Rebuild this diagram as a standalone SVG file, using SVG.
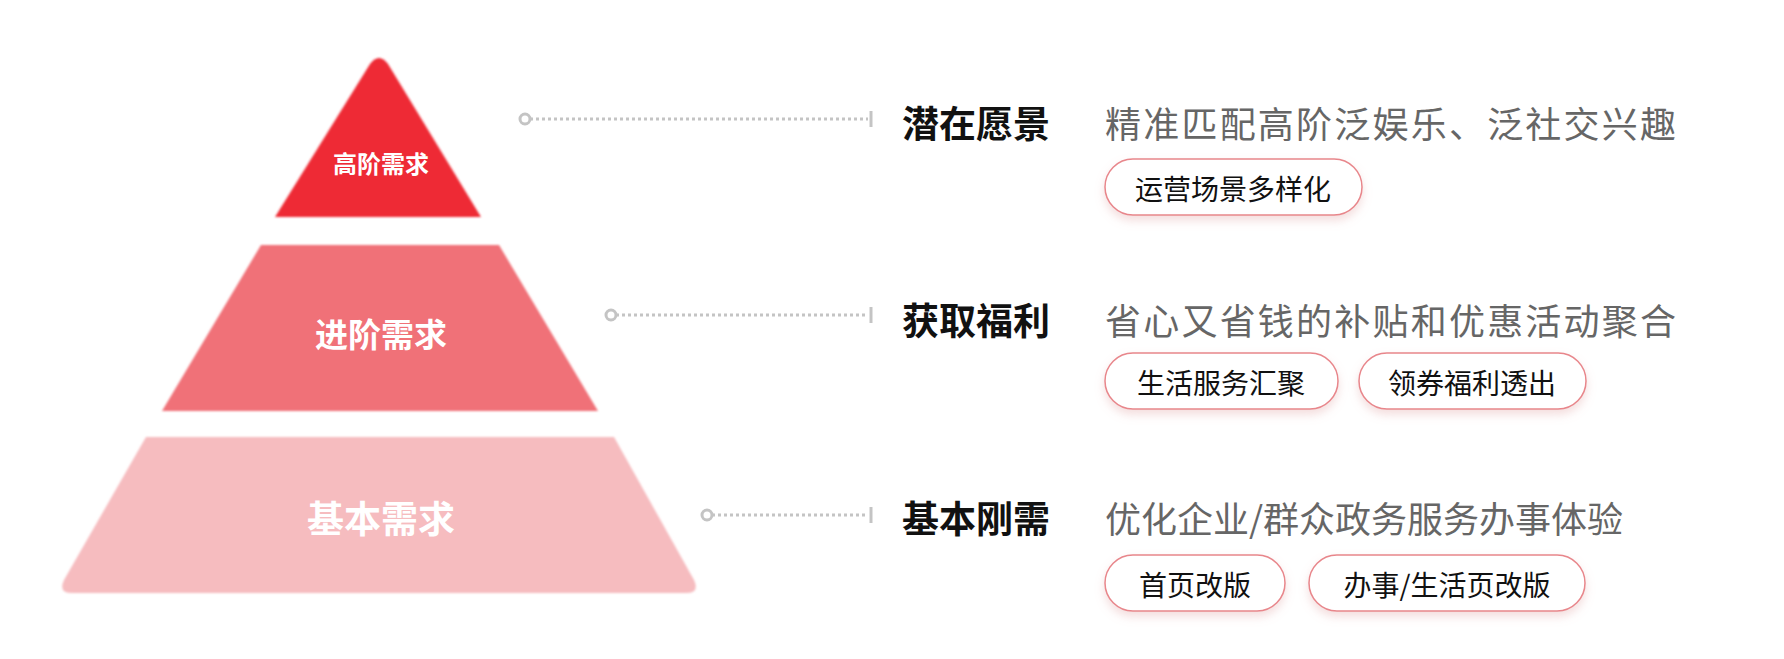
<svg xmlns="http://www.w3.org/2000/svg" width="1784" height="659" viewBox="0 0 1784 659">
<style>
.lvl{fill:#fff;font-family:"Noto Sans CJK SC","Noto Sans",sans-serif;font-weight:bold;text-anchor:middle;dominant-baseline:central}
.ttl{fill:#111;font-family:"Noto Sans CJK SC",sans-serif;font-weight:bold;font-size:37px;dominant-baseline:central}
.dsc{fill:#666;font-family:"Noto Sans CJK SC",sans-serif;font-size:36px;dominant-baseline:central}
.tag{fill:#111;font-family:"Noto Sans CJK SC",sans-serif;font-size:28px;text-anchor:middle;dominant-baseline:central}
.pill{fill:#fff;stroke:#e8868b;stroke-width:1.5;filter:url(#sh)}
.dl{stroke:#c4c4c4;stroke-width:3;stroke-dasharray:3 3;fill:none}
.dc{fill:#fff;stroke:#c4c4c4;stroke-width:3}
.tk{stroke:#c4c4c4;stroke-width:3}
</style>
<defs>
<filter id="sh" x="-20%" y="-40%" width="140%" height="190%"><feDropShadow dx="0" dy="5" stdDeviation="5" flood-color="#e0a0a0" flood-opacity="0.35"/></filter>
<filter id="bl"><feGaussianBlur stdDeviation="1.2"/></filter>
</defs>
<g id="level-top">
<path d="M370 64 Q379 52 388 64 L481 217 L275 217 Z" fill="#ee2a35" filter="url(#bl)"/>
<text class="lvl" x="381" y="162" font-size="24">高阶需求</text>
</g>
<g id="level-mid">
<path d="M261 245 L499 245 L598 411 L162 411 Z" fill="#f07178" filter="url(#bl)"/>
<text class="lvl" x="381" y="333" font-size="33">进阶需求</text>
</g>
<g id="level-base">
<path d="M146 437 L614 437 L694 580 Q700 593 686 593 L72 593 Q58 593 64 580 Z" fill="#f6bcbf" filter="url(#bl)"/>
<text class="lvl" x="381" y="517" font-size="37">基本需求</text>
</g>
<g id="connectors">
<line class="dl" x1="530" y1="119" x2="868" y2="119"/><circle class="dc" cx="525" cy="119" r="5"/><line class="tk" x1="871" y1="111" x2="871" y2="127"/>
<line class="dl" x1="616" y1="315" x2="868" y2="315"/><circle class="dc" cx="611" cy="315" r="5"/><line class="tk" x1="871" y1="307" x2="871" y2="323"/>
<line class="dl" x1="712" y1="515" x2="868" y2="515"/><circle class="dc" cx="707" cy="515" r="5"/><line class="tk" x1="871" y1="507" x2="871" y2="523"/>
</g>
<g id="row1">
<text class="ttl" x="902" y="122">潜在愿景</text>
<text class="dsc" x="1105" y="122" textLength="571">精准匹配高阶泛娱乐、泛社交兴趣</text>
<rect class="pill" x="1105" y="159" width="257" height="56" rx="28"/>
<text class="tag" x="1233" y="188">运营场景多样化</text>
</g>
<g id="row2">
<text class="ttl" x="902" y="319">获取福利</text>
<text class="dsc" x="1105" y="319" textLength="571">省心又省钱的补贴和优惠活动聚合</text>
<rect class="pill" x="1105" y="353" width="233" height="56" rx="28"/>
<text class="tag" x="1221" y="382">生活服务汇聚</text>
<rect class="pill" x="1359" y="353" width="227" height="56" rx="28"/>
<text class="tag" x="1472" y="382">领券福利透出</text>
</g>
<g id="row3">
<text class="ttl" x="902" y="517">基本刚需</text>
<text class="dsc" x="1105" y="517">优化企业/群众政务服务办事体验</text>
<rect class="pill" x="1105" y="555" width="180" height="56" rx="28"/>
<text class="tag" x="1195" y="584">首页改版</text>
<rect class="pill" x="1309" y="555" width="276" height="56" rx="28"/>
<text class="tag" x="1447" y="584">办事/生活页改版</text>
</g>
</svg>
